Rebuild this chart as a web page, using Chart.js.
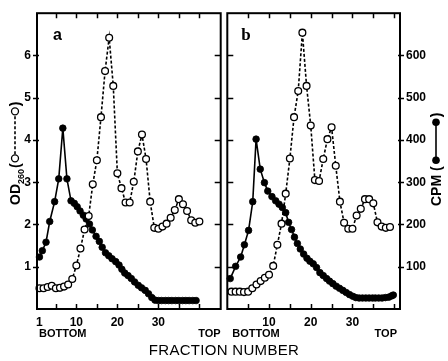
<!DOCTYPE html>
<html>
<head>
<meta charset="utf-8">
<script src="https://cdn.jsdelivr.net/npm/chart.js@4.4.0/dist/chart.umd.min.js"></script>
<style>
  html, body { margin: 0; padding: 0; background: #fff; }
  #wrap { position: relative; width: 448px; height: 361px; overflow: hidden; background: #fff; }
  #wrap canvas { position: absolute; top: 0; }
  #chartA { left: 0; }
  #chartB { left: 222px; }
  #xTitle {
    position: absolute; left: 0; width: 448px; top: 341px; text-align: center;
    font: 15px 'Liberation Sans', Arial, sans-serif; color: #000; letter-spacing: 0.3px;
  }
</style>
</head>
<body>
<div id="wrap">
  <canvas id="chartA" width="226" height="361"></canvas>
  <canvas id="chartB" width="226" height="361"></canvas>
  <div id="xTitle">FRACTION NUMBER</div>
</div>
<script>
// panel a : OD260 (open circles) per fraction
const fractionsA = [1, 2, 3, 4, 5, 6, 7, 8, 9, 10, 11, 12, 13, 14, 15, 16, 17, 18, 19, 20,
                    21, 22, 23, 24, 25, 26, 27, 28, 29, 30, 31, 32, 33, 34, 35, 36, 37, 38, 39, 40];
const od260A = [0.49, 0.49, 0.52, 0.55, 0.49, 0.50, 0.53, 0.58, 0.71, 1.03,
                1.43, 1.88, 2.20, 2.95, 3.52, 4.54, 5.63, 6.42, 5.28, 3.21,
                2.86, 2.52, 2.52, 3.01, 3.73, 4.13, 3.55, 2.54, 1.92, 1.90,
                1.95, 2.02, 2.16, 2.34, 2.60, 2.48, 2.32, 2.10, 2.04, 2.07];
// panel a : CPM (filled circles)
const cpmFractionsA = [1.0, 1.7, 2.6, 3.5, 4.7, 5.7, 6.7, 7.7, 8.7, 9.5,
                       10.2, 10.9, 11.7, 12.4, 13.2, 13.9, 14.8, 15.6, 16.3, 17.1,
                       17.9, 18.7, 19.6, 20.4, 21.1, 21.8, 22.6, 23.4, 24.2, 25.1,
                       25.9, 26.8, 27.6, 28.4, 29.2, 30.0, 30.8, 31.7, 32.5, 33.3,
                       34.2, 35.0, 35.9, 36.7, 37.5, 38.4, 39.2];
const cpmA = [123, 138, 158, 207, 254, 308, 428, 308, 256, 250,
              242, 232, 222, 213, 201, 187, 172, 160, 146, 133,
              126, 119, 112, 104, 94, 85, 79, 72, 64, 56,
              50, 44, 36, 27, 21, 20, 20, 20, 20, 20,
              20, 20, 20, 20, 20, 20, 20];

// panel b : OD260 (open circles)
const fractionsB = [1, 2, 3, 4, 5, 6, 7, 8, 9, 10, 11, 12, 13, 14, 15, 16, 17, 18, 19, 20,
                    21, 22, 23, 24, 25, 26, 27, 28, 29, 30, 31, 32, 33, 34, 35, 36, 37, 38, 39];
const od260B = [0.41, 0.41, 0.41, 0.40, 0.41, 0.49, 0.58, 0.66, 0.74, 0.81,
                1.02, 1.52, 2.02, 2.73, 3.56, 4.54, 5.16, 6.54, 5.28, 4.34,
                3.05, 3.03, 3.55, 4.02, 4.30, 3.39, 2.54, 2.04, 1.90, 1.90,
                2.21, 2.37, 2.60, 2.60, 2.50, 2.05, 1.95, 1.92, 1.94];
// panel b : CPM (filled circles)
const cpmFractionsB = [0.7, 2.0, 3.2, 4.1, 5.1, 6.1, 6.9, 7.9, 8.9, 9.7,
                       10.7, 11.6, 12.4, 13.2, 14.0, 14.7, 15.4, 16.1, 16.8, 17.5,
                       18.3, 19.1, 19.8, 20.6, 21.4, 22.2, 23.0, 23.8, 24.5, 25.3,
                       26.1, 26.9, 27.7, 28.5, 29.3, 30.1, 30.8, 31.6, 32.4, 33.2,
                       34.0, 34.8, 35.5, 36.3, 37.1, 37.9, 38.7, 39.4, 39.8];
const cpmB = [72, 101, 123, 152, 186, 254, 402, 331, 299, 279,
              266, 256, 248, 240, 228, 205, 188, 170, 155, 142,
              130, 120, 113, 107, 98, 86, 79, 72, 66, 60,
              54, 49, 44, 39, 34, 30, 27, 26, 26, 26,
              26, 26, 26, 26, 26, 27, 28, 31, 33];

// axis ticks
const fractionTicksA = [1, 5, 10, 15, 20, 25, 30, 35, 40];
const fractionTicksB = [5, 10, 15, 20, 25, 30, 35, 40];
const fractionLabelsA = [1, 10, 20, 30];
const fractionLabelsB = [10, 20, 30];
const odTicks = [0, 1, 2, 3, 4, 5, 6, 7];
const odLabels = [1, 2, 3, 4, 5, 6];
const cpmTicks = [0, 100, 200, 300, 400, 500, 600, 700];
const cpmLabels = [100, 200, 300, 400, 500, 600];

const tickFont = { family: "'Liberation Sans', Arial, sans-serif", size: 12, weight: 'bold' };

function pts(xs, ys) {
  return xs.map((x, i) => ({ x: x, y: ys[i] }));
}

function openSet(xs, ys, yAxis) {
  return {
    data: pts(xs, ys), yAxisID: yAxis, showLine: true,
    borderColor: '#000', borderWidth: 1.6, borderDash: [3, 2],
    pointRadius: 3.4, pointBorderWidth: 1.3,
    pointBackgroundColor: '#fff', pointBorderColor: '#000', clip: 6
  };
}
function filledSet(xs, ys, yAxis) {
  return {
    data: pts(xs, ys), yAxisID: yAxis, showLine: true,
    borderColor: '#000', borderWidth: 1.6,
    pointRadius: 3.3, pointBorderWidth: 0.8,
    pointBackgroundColor: '#000', pointBorderColor: '#000', clip: 6
  };
}

// frame, inward/outward tick marks and the texts of each panel
const panelFrame = {
  id: 'panelFrame',
  afterDraw(chart, args, opts) {
    const ctx = chart.ctx;
    const a = chart.chartArea;
    const xs = chart.scales.x;
    const ys = chart.scales[opts.yScale];
    ctx.save();
    ctx.strokeStyle = '#000';
    ctx.lineWidth = 1.5;
    ctx.beginPath();
    xs.ticks.forEach(t => {
      if (t.value % 5 !== 0) return;
      const px = Math.round(xs.getPixelForValue(t.value)) + 0.5;
      ctx.moveTo(px, a.bottom); ctx.lineTo(px, a.bottom - 5);
      ctx.moveTo(px, a.top); ctx.lineTo(px, a.top + 5);
    });
    ys.ticks.forEach(t => {
      if (!opts.yMarks.includes(t.value)) return;
      const py = Math.round(ys.getPixelForValue(t.value)) + 0.5;
      if (opts.side === 'a') {
        ctx.moveTo(a.left - 4, py); ctx.lineTo(a.left + 2, py);
        ctx.moveTo(a.right - 6, py); ctx.lineTo(a.right, py);
      } else {
        ctx.moveTo(a.left, py); ctx.lineTo(a.left + 6, py);
        ctx.moveTo(a.right - 2, py); ctx.lineTo(a.right + 4, py);
      }
    });
    ctx.stroke();
    ctx.lineWidth = 2;
    ctx.strokeRect(a.left, a.top, a.width, a.height);

    ctx.fillStyle = '#000';
    ctx.textBaseline = 'middle';
    // panel letter
    ctx.font = opts.letterFont;
    ctx.textAlign = 'left';
    ctx.fillText(opts.letter, a.left + opts.letterDx, 36);
    // bottom / top of the gradient
    ctx.font = "bold 11px 'Liberation Sans', Arial, sans-serif";
    ctx.fillText('BOTTOM', a.left + opts.bottomDx, 334);
    ctx.textAlign = 'right';
    ctx.fillText('TOP', a.right + opts.topDx, 334);

    if (opts.side === 'a') drawOdTitle(ctx, 15, 205);
    else drawCpmTitle(ctx, 214, 206);
    ctx.restore();
  }
};

function drawOdTitle(ctx, x, y0) {
  ctx.save();
  ctx.translate(x, y0);
  ctx.rotate(-Math.PI / 2);
  ctx.textAlign = 'left';
  ctx.textBaseline = 'alphabetic';
  ctx.font = "bold 14px 'Liberation Sans', Arial, sans-serif";
  ctx.fillText('OD', 0, 5);
  let cx = ctx.measureText('OD').width;
  ctx.font = "bold 9px 'Liberation Sans', Arial, sans-serif";
  ctx.fillText('260', cx, 9);
  cx += ctx.measureText('260').width + 1;
  ctx.font = "bold 14px 'Liberation Sans', Arial, sans-serif";
  ctx.fillText('(', cx, 5);
  cx += ctx.measureText('(').width + 5;
  ctx.lineWidth = 1.3;
  ctx.beginPath(); ctx.arc(cx, 0, 3.5, 0, Math.PI * 2); ctx.stroke();
  ctx.setLineDash([3, 2]);
  ctx.lineWidth = 1.6;
  ctx.beginPath(); ctx.moveTo(cx + 4, 0); ctx.lineTo(cx + 43, 0); ctx.stroke();
  ctx.setLineDash([]);
  ctx.lineWidth = 1.3;
  ctx.beginPath(); ctx.arc(cx + 47, 0, 3.5, 0, Math.PI * 2); ctx.stroke();
  ctx.fillText(')', cx + 52, 5);
  ctx.restore();
}

function drawCpmTitle(ctx, x, y0) {
  ctx.save();
  ctx.translate(x, y0);
  ctx.rotate(-Math.PI / 2);
  ctx.textAlign = 'left';
  ctx.textBaseline = 'alphabetic';
  ctx.font = "bold 14px 'Liberation Sans', Arial, sans-serif";
  ctx.fillText('CPM', 0, 5);
  let cx = ctx.measureText('CPM').width + 4;
  ctx.fillText('(', cx, 5);
  cx += ctx.measureText('(').width + 6;
  ctx.beginPath(); ctx.arc(cx, 0, 3.8, 0, Math.PI * 2); ctx.fill();
  ctx.lineWidth = 1.6;
  ctx.beginPath(); ctx.moveTo(cx, 0); ctx.lineTo(cx + 38, 0); ctx.stroke();
  ctx.beginPath(); ctx.arc(cx + 38, 0, 3.8, 0, Math.PI * 2); ctx.fill();
  ctx.fillText(')', cx + 43, 5);
  ctx.restore();
}

function xScale(min, max, tickValues, labelValues) {
  return {
    type: 'linear', min: min, max: max,
    afterBuildTicks: s => { s.ticks = tickValues.map(v => ({ value: v })); },
    afterFit: s => { s.height = 52; },
    grid: { display: false, drawTicks: false },
    border: { display: false },
    ticks: {
      autoSkip: false, maxRotation: 0, padding: 6, color: '#000', font: tickFont,
      callback: v => labelValues.includes(v) ? String(v) : ''
    }
  };
}

function yScale(pos, max, tickValues, labelValues, width, show) {
  return {
    type: 'linear', position: pos, min: 0, max: max, display: show,
    afterBuildTicks: s => { s.ticks = tickValues.map(v => ({ value: v })); },
    afterFit: s => { if (show) s.width = width; },
    grid: { display: false, drawTicks: false },
    border: { display: false },
    ticks: {
      padding: 6, color: '#000', font: tickFont,
      callback: v => labelValues.includes(v) ? String(v) : ''
    }
  };
}

Chart.register(panelFrame);

const chartA = new Chart(document.getElementById('chartA'), {
  type: 'scatter',
  data: {
    datasets: [
      openSet(fractionsA, od260A, 'y'),
      filledSet(cpmFractionsA, cpmA, 'cpm')
    ]
  },
  options: {
    responsive: false, animation: false, events: [],
    layout: { padding: { left: 0, right: 2, top: 13, bottom: 0 } },
    plugins: {
      legend: { display: false }, tooltip: { enabled: false },
      panelFrame: { side: 'a', yScale: 'y', yMarks: odLabels, letter: 'a', letterDx: 16,
                    letterFont: "bold 16px 'Liberation Sans', Arial, sans-serif",
                    bottomDx: 2, topDx: 0 }
    },
    scales: {
      x: xScale(0.4, 45.2, fractionTicksA, fractionLabelsA),
      y: yScale('left', 7, odTicks, odLabels, 37, true),
      cpm: yScale('right', 700, cpmTicks, cpmLabels, 0, false)
    }
  }
});

const chartB = new Chart(document.getElementById('chartB'), {
  type: 'scatter',
  data: {
    datasets: [
      openSet(fractionsB, od260B, 'y'),
      filledSet(cpmFractionsB, cpmB, 'cpm')
    ]
  },
  options: {
    responsive: false, animation: false, events: [],
    layout: { padding: { left: 2, right: 0, top: 13, bottom: 0 } },
    plugins: {
      legend: { display: false }, tooltip: { enabled: false },
      panelFrame: { side: 'b', yScale: 'cpm', yMarks: cpmLabels, letter: 'b', letterDx: 14,
                    letterFont: "bold 17px 'Liberation Serif', 'Times New Roman', serif",
                    bottomDx: 5, topDx: -3 }
    },
    scales: {
      x: xScale(0, 41.4, fractionTicksB, fractionLabelsB),
      y: yScale('left', 7, odTicks, odLabels, 0, false),
      cpm: yScale('right', 700, cpmTicks, cpmLabels, 48, true)
    }
  }
});
</script>
</body>
</html>
